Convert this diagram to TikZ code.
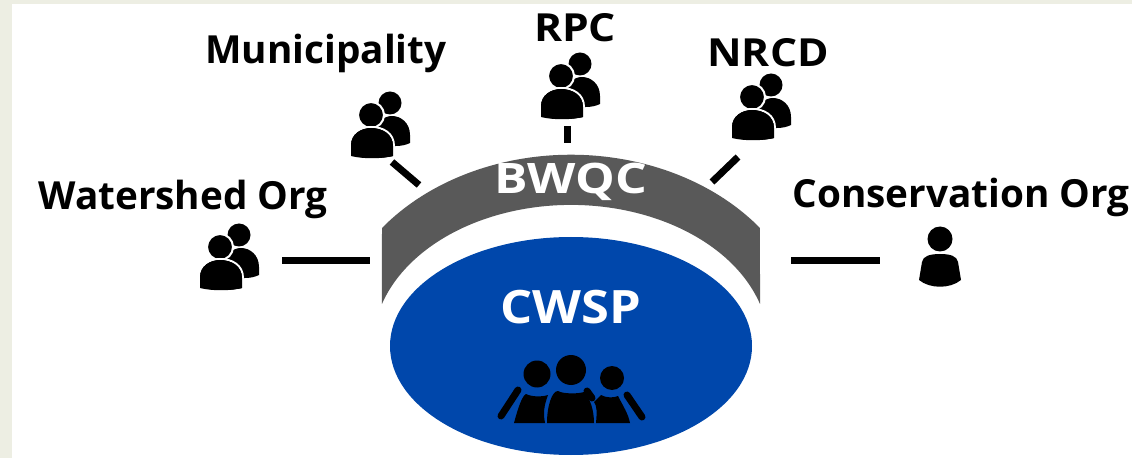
\documentclass[tikz,border=0pt]{standalone}
\usepackage{fontspec}
\usetikzlibrary{shapes.geometric}
\setmainfont{Open Sans}
\definecolor{pagebg}{HTML}{EDEEE3}
\definecolor{cwspblue}{HTML}{0047AB}
\definecolor{archgray}{HTML}{595959}
\tikzset{
  lab/.style={font=\fontsize{38.7}{38.7}\selectfont\bfseries,text=black,inner sep=0pt,anchor=center},
  caplab/.style={lab,xscale=1.1},
  inlab/.style={font=\fontsize{46}{46}\selectfont\bfseries,text=white,inner sep=0pt,anchor=center,xscale=1.1},
  archlab/.style={font=\fontsize{42}{42}\selectfont\bfseries,text=white,inner sep=0pt,anchor=center,xscale=1.19},
  link/.style={line width=7pt,black},
  duoicon/.pic={
    \fill[black] (19,12) circle (11.5);
    \fill[black] (39,-28) -- (39,-20) .. controls (39,-8) and (30,-1) .. (21,-1) .. controls (12,-1) and (5,-8) .. (5,-20) -- (5,-32) -- (25,-31) .. controls (30,-31) and (35,-30) .. (39,-28) -- cycle;
    \fill[black,draw=white,line width=2pt] (0,0) circle (13);
    \fill[black,draw=white,line width=2pt] (-21,-41) -- (-21,-30) .. controls (-21,-18) and (-10,-12) .. (0,-12) .. controls (12,-12) and (23,-18) .. (23,-31) -- (23,-42) .. controls (10,-45) and (-8,-45) .. (-21,-41) -- cycle;
    \fill[black] (-20,-41) -- (-20,-30) .. controls (-20,-19) and (-10,-13) .. (0,-13) .. controls (11,-13) and (22,-19) .. (22,-31) -- (22,-41) .. controls (10,-44) and (-8,-44) .. (-20,-41) -- cycle;
  },
  soloicon/.pic={
    \fill[black] (0,0) circle (12.5);
    \fill[black] (-21,-41) -- (-18,-23) .. controls (-17,-17) and (-10,-15) .. (0,-15) .. controls (10,-15) and (17,-17) .. (18,-23) -- (21,-41) .. controls (10,-50) and (-10,-50) .. (-21,-41) -- cycle;
  }
}
\begin{document}
\begin{tikzpicture}[x=1pt,y=1pt]
\useasboundingbox (0,0) rectangle (1132,458);
\fill[pagebg] (0,0) rectangle (1132,458);
\fill[white] (12,0) rectangle (1132,454);
% arch
\fill[archgray] (382,230) arc[start angle=141.95,end angle=38.05,x radius=240pt,y radius=191pt]
  -- (760,154) arc[start angle=17.3,end angle=162.7,x radius=198pt,y radius=141pt] -- cycle;
% ellipse
\node[ellipse,fill=cwspblue,minimum width=362pt,minimum height=218pt,inner sep=0pt] (cwsp) at (571,112) {};
\node[archlab] (bwqclab) at (571,276) {BWQC};
\node[inlab] (cwsplab) at (571,151) {CWSP};
% group in ellipse
\fill[black] (537,84) circle (13.5) (571,88) circle (15) (612,80) circle (12);
\fill[black] (514,35) .. controls (518,50) and (522,62) .. (526,64) .. controls (532,61) and (542,61) .. (548,63) .. controls (544,52) and (543,45) .. (545,35) -- cycle;
\fill[black] (547,35) .. controls (547,52) and (552,67) .. (558,67) .. controls (563,64) and (578,64) .. (584,66) .. controls (590,60) and (594,48) .. (594,35) -- cycle;
\fill[black] (596,35) .. controls (597,46) and (597,52) .. (594,56) -- (601,63) .. controls (606,60) and (614,60) .. (618,62) .. controls (623,52) and (628,45) .. (630,35) -- cycle;
\draw[black,line width=7pt,line cap=round] (518,68) -- (501,42) (627,63) -- (642,41) (587,67) -- (592,60);
% connectors
\coordinate (wsA) at (282,197); \coordinate (wsB) at (370,197);
\coordinate (coA) at (791,197); \coordinate (coB) at (880,197);
\coordinate (muA) at (392,296); \coordinate (muB) at (419,273);
\coordinate (rpA) at (567,332); \coordinate (rpB) at (567,315);
\coordinate (nrA) at (738,301); \coordinate (nrB) at (712,276);
\draw[link] (wsA) -- (wsB);
\draw[link] (coA) -- (coB);
\draw[link] (muA) -- (muB);
\draw[link] (rpA) -- (rpB);
\draw[link] (nrA) -- (nrB);
% icons
\pic at (220,211) {duoicon};
\pic at (371,343) {duoicon};
\pic at (561,382) {duoicon};
\pic at (752,361) {duoicon};
\pic at (940,219) {soloicon};
% labels
\node[lab] (mun) at (326,405) {Municipality};
\node[caplab] (rpc) at (575,430) {RPC};
\node[caplab] (nrcd) at (768,405) {NRCD};
\node[lab] (wso) at (183,259) {Watershed Org};
\node[lab] (cso) at (961,261) {Conservation Org};
\end{tikzpicture}
\end{document}
